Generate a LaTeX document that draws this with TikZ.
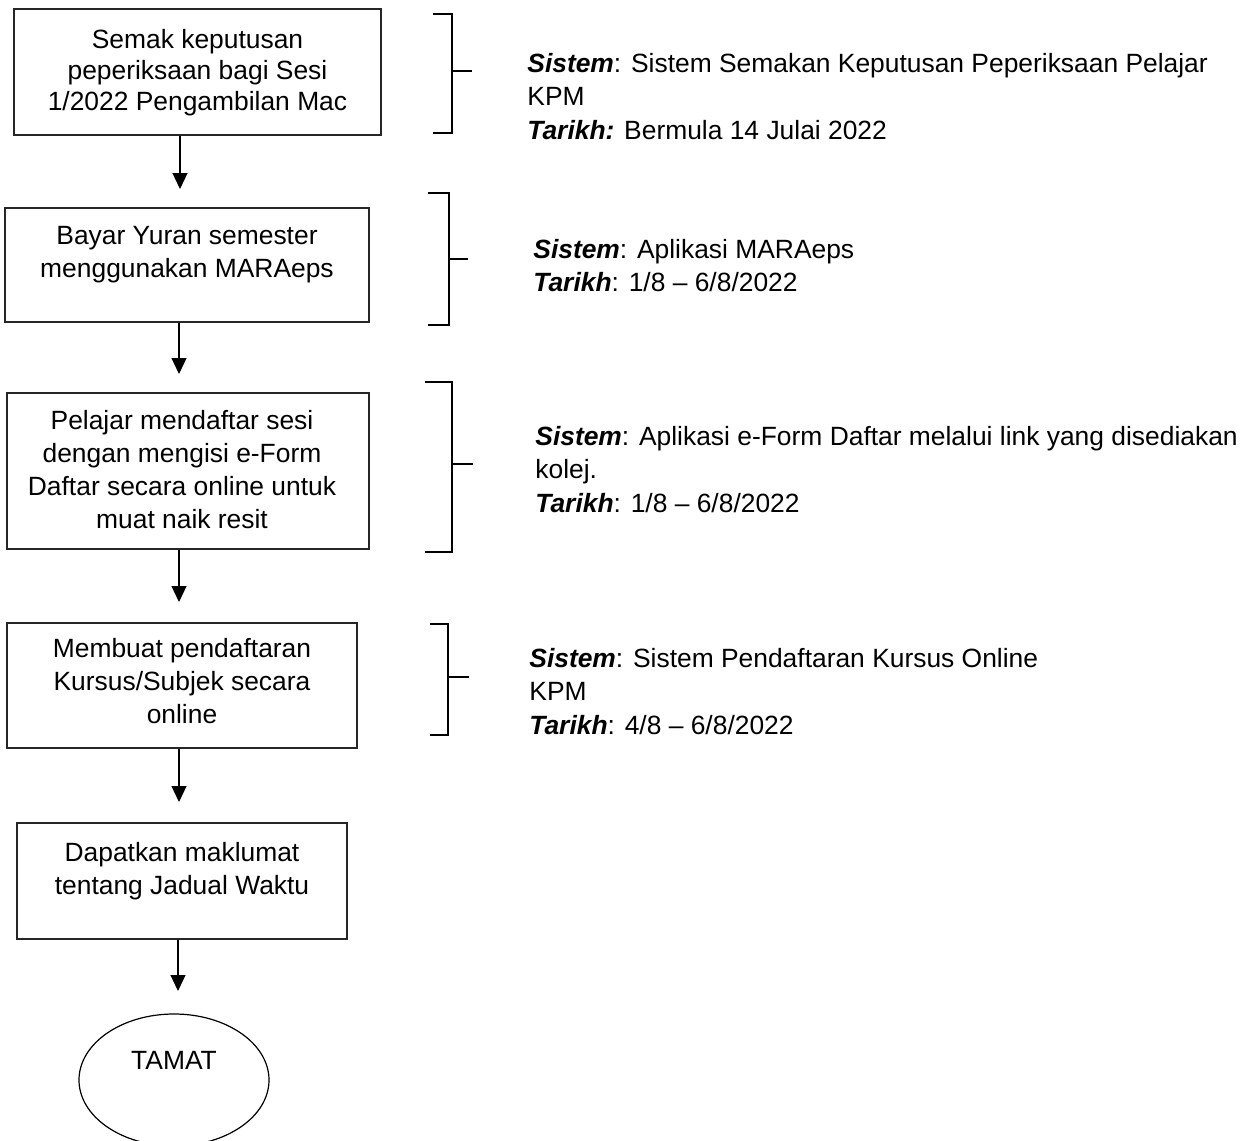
\documentclass[tikz,border=0pt]{standalone}
\usepackage{fontspec}
\setmainfont{Liberation Sans}
\usetikzlibrary{arrows.meta,shapes.geometric}
\newcommand{\lbl}[1]{{\bfseries\itshape #1}}
\begin{document}
\begin{tikzpicture}[x=0.5pt,y=-0.5pt,
  box/.style={draw=black!85, line width=0.65pt, inner sep=0pt, rectangle},
  boxtext/.style={font=\fontsize{13.2}{16.5}\selectfont, align=center, inner sep=0pt, anchor=north},
  note/.style={font=\fontsize{13.2}{16.8}\selectfont, align=left, inner sep=0pt, anchor=north west},
  flow/.style={-{Triangle[length=8pt,width=7.5pt]}, line width=0.6pt},
  brk/.style={line width=1.2pt, black}]
\useasboundingbox (0,0) rectangle (1250,1141);
% boxes
\node[box, minimum width=183.5pt, minimum height=63pt] (b1) at (197.5,72) {};
\node[box, minimum width=182pt, minimum height=57pt] (b2) at (187,265) {};
\node[box, minimum width=181pt, minimum height=78pt] (b3) at (188,471) {};
\node[box, minimum width=175pt, minimum height=62.5pt] (b4) at (182,685.5) {};
\node[box, minimum width=165pt, minimum height=58pt] (b5) at (182,881) {};
\node[draw=black, line width=0.6pt, ellipse, minimum width=95pt, minimum height=66pt, inner sep=0pt] (end) at (174,1080) {};
% box texts
\node[boxtext, font=\fontsize{13.2}{15.5}\selectfont] (t1) at (197.5,28.5) {Semak keputusan\\peperiksaan bagi Sesi\\1/2022 Pengambilan Mac};
\node[boxtext] (t2) at (187,225.5) {Bayar Yuran semester\\menggunakan MARAeps};
\node[boxtext] (t3) at (182,410) {Pelajar mendaftar sesi\\dengan mengisi e-Form\\Daftar secara online untuk\\muat naik resit};
\node[boxtext] (t4) at (182,637.5) {Membuat pendaftaran\\Kursus/Subjek secara\\online};
\node[boxtext] (t5) at (182,841.5) {Dapatkan maklumat\\tentang Jadual Waktu};
\node[boxtext] (t6) at (174,1050.5) {TAMAT};
% arrows
\coordinate (p1) at (180,189);
\coordinate (p2) at (179,374);
\coordinate (p3) at (179,602);
\coordinate (p4) at (179,802);
\coordinate (p5) at (178,991);
\draw[flow] (p1 |- b1.south) -- (p1);
\draw[flow] (p2 |- b2.south) -- (p2);
\draw[flow] (p3 |- b3.south) -- (p3);
\draw[flow] (p4 |- b4.south) -- (p4);
\draw[flow] (p5 |- b5.south) -- (p5);
% brackets
\draw[brk] (433,14) -- (452,14) -- (452,133) -- (433,133);
\draw[brk] (452,71) -- (472,71);
\draw[brk] (428,193) -- (449,193) -- (449,325) -- (428,325);
\draw[brk] (449,259) -- (468,259);
\draw[brk] (425,382) -- (452,382) -- (452,552) -- (425,552);
\draw[brk] (452,464) -- (473,464);
\draw[brk] (430,624) -- (448,624) -- (448,735) -- (430,735);
\draw[brk] (448,677) -- (469,677);
% notes
\node[note] (n1) at (527,52.5) {\lbl{Sistem}: Sistem Semakan Keputusan Peperiksaan Pelajar\\KPM\\\lbl{Tarikh:} Bermula 14 Julai 2022};
\node[note] (n2) at (533,238.5) {\lbl{Sistem}: Aplikasi MARAeps\\\lbl{Tarikh}: 1/8 – 6/8/2022};
\node[note] (n3) at (535,425.5) {\lbl{Sistem}: Aplikasi e-Form Daftar melalui link yang disediakan\\kolej.\\\lbl{Tarikh}: 1/8 – 6/8/2022};
\node[note] (n4) at (529,647.5) {\lbl{Sistem}: Sistem Pendaftaran Kursus Online\\KPM\\\lbl{Tarikh}: 4/8 – 6/8/2022};
\end{tikzpicture}
\end{document}
